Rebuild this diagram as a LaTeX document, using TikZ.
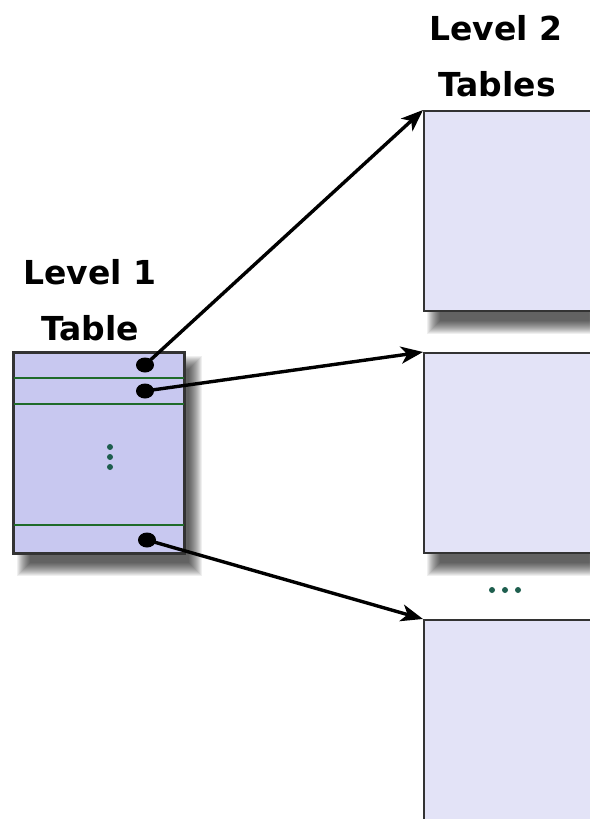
\documentclass[tikz,border=0pt]{standalone}
\usepackage{fontspec}
\setmainfont{DejaVu Sans}
\usetikzlibrary{arrows.meta,shapes.geometric}
\definecolor{lvlone}{HTML}{C8C8F0}
\definecolor{lvltwo}{HTML}{E3E3F7}
\definecolor{rulegreen}{HTML}{1F6B2A}
\definecolor{edgegray}{HTML}{333333}
\definecolor{dotteal}{HTML}{1E5E4E}
\pgfdeclarelayer{shadowlayer}
\pgfsetlayers{shadowlayer,main}
% soft drop shadow built from stacked translucent rectangles
\newcommand{\softshadow}[1]{%
  \begin{pgfonlayer}{shadowlayer}
    \foreach \k in {0,...,13}{
      \fill[black,opacity=0.062]
        ([shift={(4+\k,4+\k)}]#1.north west) rectangle
        ([shift={(17-\k,22-\k)}]#1.south east);
    }
  \end{pgfonlayer}}
\begin{document}
\begin{tikzpicture}[x=1pt,y=-1pt,
  tablebox/.style={draw=edgegray,line width=2.2pt,anchor=north west,inner sep=0pt},
  lbl/.style={font=\bfseries\fontsize{33}{40}\selectfont,text=black,inner sep=0pt},
  entry/.style={ellipse,fill=black,minimum width=18pt,minimum height=15pt,inner sep=0pt},
  pointer/.style={line width=3.4pt,-{Stealth[length=22pt,width=17pt,inset=6pt]}},
  tinydot/.style={circle,fill=dotteal,minimum size=6pt,inner sep=0pt}
]
\useasboundingbox (0,0) rectangle (589,819);
\begin{pgfonlayer}{shadowlayer}
  \fill[white] (0,0) rectangle (589,819);
\end{pgfonlayer}

% level 2 tables (cut off at the right edge)
\node[tablebox,fill=lvltwo,minimum width=200pt,minimum height=200pt] (b1) at (423,110) {};
\node[tablebox,fill=lvltwo,minimum width=200pt,minimum height=200pt] (b2) at (423,352) {};
\node[tablebox,fill=lvltwo,minimum width=200pt,minimum height=240pt] (b3) at (423,619) {};

% level 1 table
\node[tablebox,fill=lvlone,minimum width=170pt,minimum height=200pt] (t) at (13,352) {};
\draw[rulegreen,line width=1.8pt] ([xshift=1pt]t.north west |- 0,378) -- ([xshift=-1pt]t.north east |- 0,378)
  ([xshift=1pt]t.north west |- 0,404) -- ([xshift=-1pt]t.north east |- 0,404)
  ([xshift=1pt]t.north west |- 0,525) -- ([xshift=-1pt]t.north east |- 0,525);
\draw[edgegray,line width=2.2pt] (t.north west) rectangle (t.south east);

\softshadow{b1}
\softshadow{b2}
\softshadow{b3}
\softshadow{t}

% vertical ellipsis inside the level 1 table
\node[tinydot] (v1) at (110,447) {};
\node[tinydot] (v2) at (110,457) {};
\node[tinydot] (v3) at (110,467) {};

% horizontal ellipsis between level 2 tables
\node[tinydot] (h1) at (492,590) {};
\node[tinydot] (h2) at (505,590) {};
\node[tinydot] (h3) at (518,590) {};

% labels
\node[lbl] (l1a) at (90,272) {Level 1};
\node[lbl] (l1b) at (90,328) {Table};
\node[lbl] (l2a) at (496,28) {Level 2};
\node[lbl] (l2b) at (497,84) {Tables};

% table entries and pointers
\node[entry] (e1) at (145,365) {};
\node[entry] (e2) at (145,391) {};
\node[entry] (e3) at (147,540) {};
\draw[pointer] (e1.center) -- (b1.north west);
\draw[pointer] (e2.center) -- (b2.north west);
\draw[pointer] (e3.center) -- (b3.north west);
\end{tikzpicture}
\end{document}
